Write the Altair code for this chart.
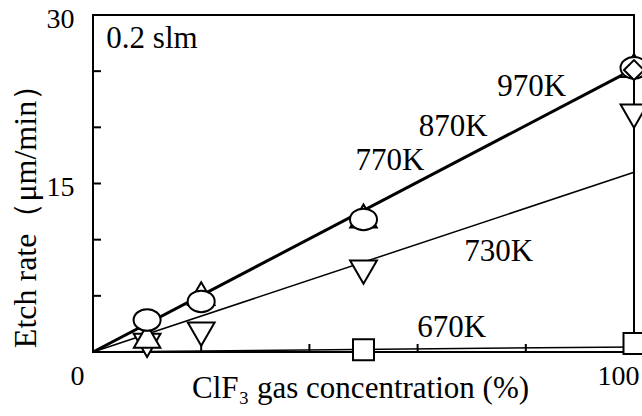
import altair as alt
import pandas as pd

# ---- data -------------------------------------------------------------
# straight-line fits through the origin (ClF3 %, etch rate)
fit_x = [0, 100]
fit_hot = [0, 25.2]     # 770-970K share one line
fit_730 = [0, 16.0]
fit_670 = [0, 0.45]

# measured etch rates
conc = [10, 20, 50, 100]
rate_circle = [2.85, 4.5, 11.8, 25.3]
rate_tri_up = [1.4, 5.2, 12.1, 25.5]
rate_tri_down = [0.6, 1.6, 7.1, 21.0]
conc_square = [50, 100]
rate_square = [0.2, 0.75]
conc_diamond = [100]
rate_diamond = [25.1]

# temperature labels placed next to their lines
temp_labels = ["970K", "870K", "770K", "730K", "670K"]
temp_x = [81.1, 66.6, 54.9, 75.0, 66.3]
temp_y = [23.55, 20.0, 17.0, 8.86, 2.18]

note_text = ["0.2 slm"]
note_x = [10.9]
note_y = [27.9]

# minor tick positions drawn inward on the frame
y_ticks = [5, 10, 15, 20, 25]
x_ticks = [20, 40, 60, 80]

SERIF = "'Liberation Serif', 'Times New Roman', 'DejaVu Serif', serif"
W, H = 541, 337

x_scale = alt.Scale(domain=[0, 100], nice=False, zero=False)
y_scale = alt.Scale(domain=[0, 30], nice=False, zero=False)

x_axis = alt.Axis(
    values=[0, 100], ticks=False, domain=False, grid=False,
    labelFont=SERIF, labelFontSize=28, labelColor="black",
    labelPadding=10, labelOffset=-16, labelFlush=False, labelAlign="center",
    title="ClF₃ gas concentration (%)", titleFont=SERIF, titleFontSize=31,
    titleFontWeight="normal", titleColor="black",
    titleX=267, titleY=45, titleAlign="center", titleBaseline="alphabetic",
)
y_axis = alt.Axis(
    values=[15, 30], ticks=False, domain=False, grid=False,
    labelFont=SERIF, labelFontSize=28, labelColor="black",
    labelPadding=19, labelOffset=4, labelFlush=False,
    title="Etch rate（μm/min）", titleFont=SERIF, titleFontSize=32,
    titleFontWeight="normal", titleColor="black", titleAngle=270,
    titleX=-58, titleY=193, titleAlign="center", titleBaseline="alphabetic",
)

X = alt.X("x:Q", scale=x_scale, axis=x_axis)
Y = alt.Y("y:Q", scale=y_scale, axis=y_axis)


def frame(xs, ys):
    return pd.DataFrame({"x": xs, "y": ys})


def fit_line(ys, width):
    return alt.Chart(frame(fit_x, ys)).mark_line(
        color="black", strokeWidth=width
    ).encode(x=X, y=Y)


def markers(xs, ys, shape, size, sw=2):
    return alt.Chart(frame(xs, ys)).mark_point(
        shape=shape, size=size, filled=True, fill="white",
        stroke="black", strokeWidth=sw, opacity=1,
    ).encode(x=X, y=Y)


ellipse = "M-1,0A1,0.8,0,1,0,1,0A1,0.8,0,1,0,-1,0Z"

lines = fit_line(fit_hot, 3) + fit_line(fit_730, 1.5) + fit_line(fit_670, 1.5)

pts = (
    markers(conc, rate_tri_down, "triangle-down", 720)
    + markers(conc_square, rate_square, "square", 441)
    + markers(conc, rate_tri_up, "triangle-up", 700)
    + markers(conc, rate_circle, ellipse, 729)
    + markers(conc_diamond, rate_diamond, "diamond", 400)
)

# inward ticks on the left and bottom edges
ytick_rules = alt.Chart(pd.DataFrame({"y": y_ticks})).mark_rule(
    color="black", strokeWidth=2
).encode(y=Y, x=alt.value(0), x2=alt.value(8))
xtick_rules = alt.Chart(pd.DataFrame({"x": x_ticks})).mark_rule(
    color="black", strokeWidth=2
).encode(x=X, y=alt.value(H), y2=alt.value(H - 8))

temps = alt.Chart(
    pd.DataFrame({"x": temp_x, "y": temp_y, "t": temp_labels})
).mark_text(
    font=SERIF, fontSize=31, color="black", align="center", baseline="middle"
).encode(x=X, y=Y, text="t:N")

note = alt.Chart(
    pd.DataFrame({"x": note_x, "y": note_y, "t": note_text})
).mark_text(
    font=SERIF, fontSize=31, color="black", align="center", baseline="middle"
).encode(x=X, y=Y, text="t:N")

chart = (
    alt.layer(ytick_rules, xtick_rules, lines, pts, temps, note)
    .properties(
        width=W, height=H,
        autosize=alt.AutoSizeParams(type="none"),
        padding={"left": 93, "top": 15, "right": 8, "bottom": 64},
        background="white",
    )
    .configure_view(stroke="black", strokeWidth=2)
)

chart.save("out.html", embed_options={"renderer": "svg", "actions": False})
